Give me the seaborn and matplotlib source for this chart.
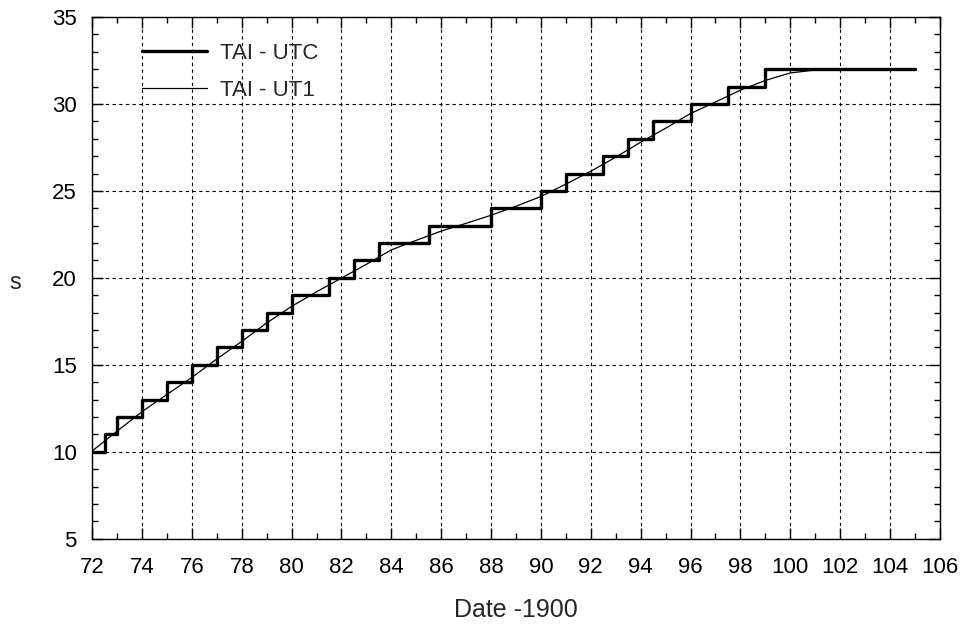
import matplotlib
matplotlib.use("Agg")
import matplotlib.pyplot as plt
import seaborn as sns
import pandas as pd
from matplotlib.ticker import MultipleLocator

sns.set_style("ticks")
plt.rcParams['font.family'] = ['Liberation Sans', 'DejaVu Sans']

# TAI - UTC (leap second steps), date - 1900
utc_dates = [72.0, 72.5, 73.0, 74.0, 75.0, 76.0, 77.0, 78.0, 79.0, 80.0, 81.5, 82.5,
             83.5, 85.5, 88.0, 90.0, 91.0, 92.5, 93.5, 94.5, 96.0, 97.5, 99.0, 105.0]
utc_values = [10, 11, 12, 13, 14, 15, 16, 17, 18, 19, 20, 21,
              22, 23, 24, 25, 26, 27, 28, 29, 30, 31, 32, 32]

# TAI - UT1 (smooth)
ut1_dates = [72, 73, 74, 75, 76, 77, 78, 79, 80, 81, 82, 83, 84, 85, 86, 87, 88, 89,
             90, 91, 92, 93, 94, 95, 96, 97, 98, 99, 100, 101, 102, 103, 104, 105]
ut1_values = [10.05, 11.19, 12.31, 13.30, 14.28, 15.34, 16.35, 17.41, 18.36, 19.20,
              19.99, 20.78, 21.61, 22.16, 22.69, 23.14, 23.60, 24.12, 24.68, 25.39,
              26.13, 26.94, 27.80, 28.60, 29.45, 30.11, 30.79, 31.35, 31.78, 31.95,
              32.0, 32.0, 32.0, 32.0]

df_utc = pd.DataFrame({"date": utc_dates, "s": utc_values})
df_ut1 = pd.DataFrame({"date": ut1_dates, "s": ut1_values})

fig = plt.figure(figsize=(9.6, 6.28), dpi=100)
ax = fig.add_axes([0.096, 0.142, 0.883, 0.831])

sns.lineplot(data=df_utc, x="date", y="s", ax=ax, color="black", linewidth=2.4,
             drawstyle="steps-post", label="TAI - UTC", zorder=3)
sns.lineplot(data=df_ut1, x="date", y="s", ax=ax, color="black", linewidth=0.9,
             label="TAI - UT1", zorder=4)

ax.set_xlim(72, 106)
ax.set_ylim(5, 35)
ax.xaxis.set_major_locator(MultipleLocator(2))
ax.xaxis.set_minor_locator(MultipleLocator(1))
ax.yaxis.set_major_locator(MultipleLocator(5))
ax.yaxis.set_minor_locator(MultipleLocator(1))
ax.tick_params(which="both", direction="in", top=True, right=True, colors="black",
               labelsize=16)
ax.tick_params(which="major", length=8, width=1)
ax.tick_params(which="minor", length=4, width=1)
ax.tick_params(axis="x", pad=13)
ax.tick_params(axis="y", pad=11)
for sp in ax.spines.values():
    sp.set_visible(True)
    sp.set_color("black")
    sp.set_linewidth(1)

ax.grid(True, which="major", color="black", linestyle=(0, (3, 3)), linewidth=0.8)

ax.set_xlabel("Date -1900", fontsize=18, va="center")
ax.xaxis.set_label_coords(0.5, -0.136)
ax.set_ylabel("s", fontsize=17, rotation=0, va="center", ha="center")
ax.yaxis.set_label_coords(-0.091, 0.49)

leg = ax.legend(loc="upper left", frameon=False, fontsize=16, handlelength=2.9,
                handletextpad=0.6, borderpad=0, borderaxespad=0,
                bbox_to_anchor=(0.059, 0.950), labelspacing=0.72)

fig.savefig("out.png", dpi=100)
